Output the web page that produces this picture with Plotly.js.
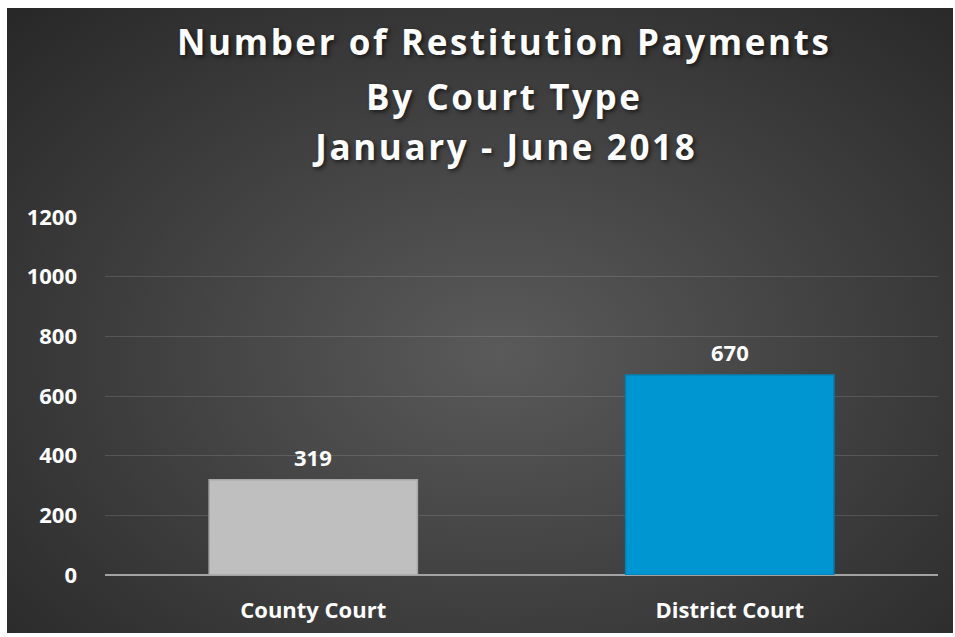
<!DOCTYPE html>
<html>
<head>
<meta charset="utf-8">
<script src="https://cdn.plot.ly/plotly-3.0.1.min.js"></script>
<style>
  html, body { margin: 0; padding: 0; background: #ffffff; width: 955px; height: 637px; overflow: hidden; }
  #chart {
    position: absolute; left: 7px; top: 8px; width: 946px; height: 625px;
    background: radial-gradient(ellipse 75% 80% at 52% 55%, #5a5a5a 0%, #3d3d3d 55%, #262626 100%);
  }
  g.annotation[data-index="0"] text,
  g.annotation[data-index="1"] text,
  g.annotation[data-index="2"] text { letter-spacing: 2.6px; }
</style>
</head>
<body>
<div id="chart"></div>
<script>
const categories = ["County Court", "District Court"];
const payments = [319, 670];
const barColors = ["#bfbfbf", "#0096d2"];
const barLines = ["#a8a8a8", "#0081b6"];
const titleLines = ["Number of Restitution Payments", "By Court Type", "January - June 2018"];
const yTicks = [0, 200, 400, 600, 800, 1000, 1200];

const FONT = "'Open Sans', 'DejaVu Sans', sans-serif";

const trace = {
  type: "bar",
  x: categories,
  y: payments,
  marker: { color: barColors, line: { color: barLines, width: 1.5 } },
  hoverinfo: "skip"
};

const titleY = [1.489, 1.336, 1.198];
const annotations = titleLines.map((t, i) => ({
  text: "<b>" + t + "</b>",
  xref: "paper", yref: "paper",
  x: 0.48, y: titleY[i],
  xanchor: "center", yanchor: "middle",
  showarrow: false,
  font: { family: FONT, size: 35, color: "#ffffff", shadow: "2px 2px 4px rgba(0,0,0,0.6)" }
}));
categories.forEach((c, i) => {
  annotations.push({
    text: "<b>" + payments[i] + "</b>",
    x: c, y: payments[i], xref: "x", yref: "y",
    xanchor: "center", yanchor: "bottom", yshift: 6,
    showarrow: false,
    font: { family: FONT, size: 22, color: "#ffffff" }
  });
});

const layout = {
  width: 946, height: 625,
  margin: { l: 97.5, r: 14.5, t: 209, b: 58, pad: 0 },
  paper_bgcolor: "rgba(0,0,0,0)",
  plot_bgcolor: "rgba(0,0,0,0)",
  showlegend: false,
  bargap: 0.5,
  xaxis: {
    type: "category",
    showgrid: false,
    showline: false,
    zeroline: false,
    ticks: "",
    ticklabelstandoff: 20,
    tickfont: { family: FONT, size: 22, color: "#ffffff", weight: "bold" },
    fixedrange: true
  },
  yaxis: {
    range: [0, 1200],
    tickvals: yTicks,
    ticktext: yTicks.map(String),
    showgrid: true,
    gridcolor: "rgba(255,255,255,0.13)",
    gridwidth: 1,
    zeroline: true,
    zerolinecolor: "#a3a3a3",
    zerolinewidth: 2,
    showline: false,
    ticks: "",
    ticklabelstandoff: 27,
    tickfont: { family: FONT, size: 22, color: "#ffffff", weight: "bold" },
    fixedrange: true
  },
  annotations: annotations
};

Plotly.newPlot("chart", [trace], layout, { displayModeBar: false, staticPlot: true });
</script>
</body>
</html>
